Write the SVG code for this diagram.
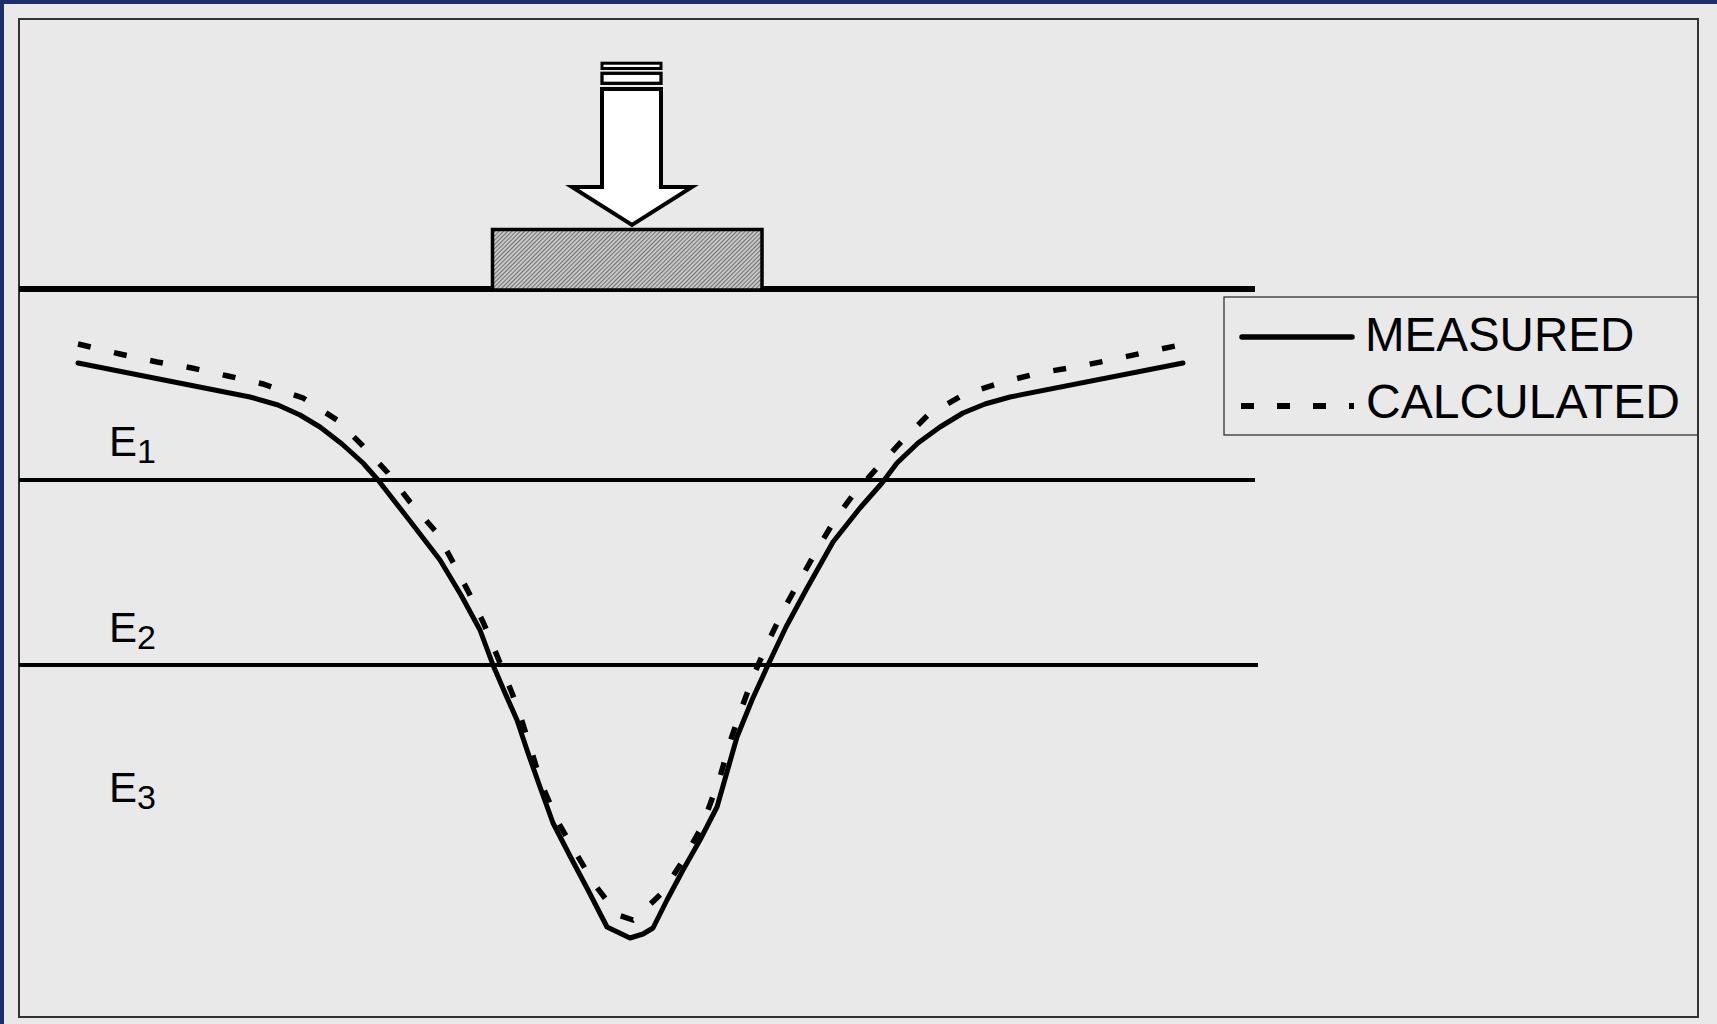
<svg xmlns="http://www.w3.org/2000/svg" width="1717" height="1024" viewBox="0 0 1717 1024">
<defs>
<pattern id="hatch" patternUnits="userSpaceOnUse" width="3" height="3" patternTransform="rotate(45)">
<rect width="3" height="3" fill="#c8c8c8"/>
<line x1="0" y1="0" x2="0" y2="3" stroke="#333" stroke-width="1.2"/>
</pattern>
<style>
.curve{fill:none;stroke:#000;stroke-width:5;stroke-linejoin:round;stroke-linecap:round}
.dash{fill:none;stroke:#000;stroke-width:5.5;stroke-dasharray:13 24;stroke-linejoin:miter}
.layer{stroke:#000;stroke-width:4;fill:none}
.lbl{font-family:"Liberation Sans",Arial,sans-serif;fill:#000}
</style>
</defs>
<rect x="0" y="0" width="1717" height="1024" fill="#E9E9E9"/>
<rect x="0" y="0" width="1717" height="4" fill="#1C2D6B"/>
<rect x="0" y="0" width="4" height="1024" fill="#1C2D6B"/>
<rect x="19" y="19" width="1679" height="998" fill="none" stroke="#333" stroke-width="2"/>

<g id="ground">
<line x1="19" y1="289" x2="1255" y2="289" stroke="#000" stroke-width="6"/>
</g>
<g id="layers">
<line class="layer" x1="19" y1="480" x2="1255" y2="480"/>
<line class="layer" x1="19" y1="665" x2="1258" y2="665"/>
</g>

<g id="footing">
<rect x="492.5" y="229.5" width="269.5" height="60.5" fill="url(#hatch)" stroke="#000" stroke-width="3.5"/>
</g>

<g id="load-arrow" stroke="#000" fill="#fff">
<rect x="602" y="63.2" width="59" height="5.3" stroke-width="3"/>
<rect x="602" y="73.3" width="59" height="10" stroke-width="3.3"/>
<path d="M602,89 L602,187 L572,187 L632,225 L692,187 L661,187 L661,89 Z" stroke-width="4" stroke-linejoin="miter"/>
</g>

<g id="labels" class="lbl">
<text x="109" y="456" font-size="42">E<tspan font-size="34" dy="7">1</tspan></text>
<text x="109" y="642" font-size="42">E<tspan font-size="34" dy="7">2</tspan></text>
<text x="109" y="802" font-size="42">E<tspan font-size="34" dy="7">3</tspan></text>
</g>

<g id="connectors">
<polyline id="measured" class="curve" points="78,363 250,397 278,405 300,415 320,427 342,444 363,463 378,480 410,521 440,560 461,595 480,630 493,665 505,693 517,720 528,753 540,787 553,823 570,856 588,890 607,927 630,938 643,934 653,928 667,900 683,870 700,840 717,807 727,772 737,737 752,700 768,665 786,627 806,590 833,542 860,508 882,483 897,463 918,443 940,427 963,413 985,404 1010,397 1183,363"/>
<polyline id="calculated" class="dash" points="78,344 120,354 157,362 192,368 228,376 263,384 303,398 337,420 362,445 388,473 410,502 437,533 454,564 469,593 484,624 498,658 512,693 521,718 532,753 542,785 558,822 577,855 595,885 618,915 633,920 638,916 662,893 682,862 700,830 708,810 720,777 730,742 742,707 755,672 770,638 785,607 800,580 818,548 836,518 853,495 878,467 902,441 928,415 963,395 1003,382 1039,373 1075,367 1111,360 1147,352 1180,345"/>
</g>

<g id="legend">
<rect x="1224" y="297" width="474" height="138" fill="none" stroke="#333" stroke-width="1.3"/>
<line x1="1242" y1="337" x2="1352" y2="337" stroke="#000" stroke-width="5.5" stroke-linecap="round"/>
<line x1="1241" y1="406" x2="1354" y2="406" stroke="#000" stroke-width="6" stroke-dasharray="13 23"/>
<text class="lbl" x="1365" y="351" font-size="47.5">MEASURED</text>
<text class="lbl" x="1366" y="418" font-size="47.5" textLength="314" lengthAdjust="spacingAndGlyphs">CALCULATED</text>
</g>
</svg>
